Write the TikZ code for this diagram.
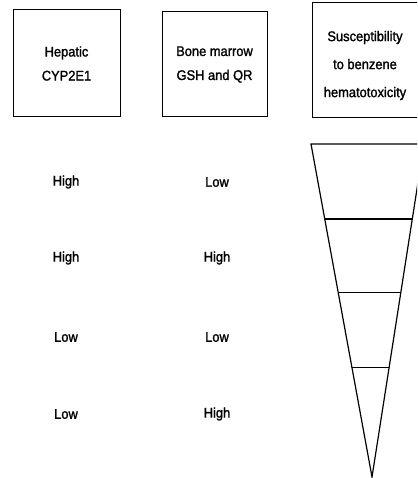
\documentclass[tikz,border=0pt]{standalone}
\usepackage{fontspec}
\setmainfont[FakeBold=1.5,FakeStretch=0.92]{Liberation Sans}
\usetikzlibrary{calc}

\begin{document}
\begin{tikzpicture}[
  x=1pt, y=-1pt,
  every node/.style={font=\fontsize{14}{16}\selectfont},
  headbox/.style={draw, line width=1pt, align=center, inner sep=0pt},
  level/.style={anchor=center},
  line width=1.2pt
]
\clip (0,0) rectangle (417,478);
% header boxes
\node[headbox, minimum width=107pt, minimum height=107pt] (cyp) at (66.5,63.5)
  {Hepatic\\[8pt]CYP2E1};
\node[headbox, minimum width=105pt, minimum height=105pt] (gsh) at (214.5,64.5)
  {Bone marrow\\[8pt]GSH and QR};
\node[headbox, minimum width=110pt, minimum height=115pt] (sus) at (367,60.5) {};
\node[align=center, inner sep=0pt] (sustext) at (365,65.5)
  {Susceptibility\\[12pt]to benzene\\[12pt]hematotoxicity};
% levels
\node[level] (c1) at (66,182) {High};
\node[level] (c2) at (66,258) {High};
\node[level] (c3) at (66,337) {Low};
\node[level] (c4) at (66,414) {Low};
\node[level] (g1) at (217,182) {Low};
\node[level] (g2) at (217,258) {High};
\node[level] (g3) at (217,337) {Low};
\node[level] (g4) at (217,414) {High};
% funnel
\coordinate (tl) at (311,144);
\coordinate (tr) at (424,144);
\coordinate (apex) at (372,477);
\draw[line join=miter] (tr) -- (tl) -- (apex) -- cycle;
\foreach \t in {0.225, 0.447, 0.670}
  \draw ($(tl)!\t!(apex)$) -- ($(tr)!\t!(apex)$);
\end{tikzpicture}
\end{document}
